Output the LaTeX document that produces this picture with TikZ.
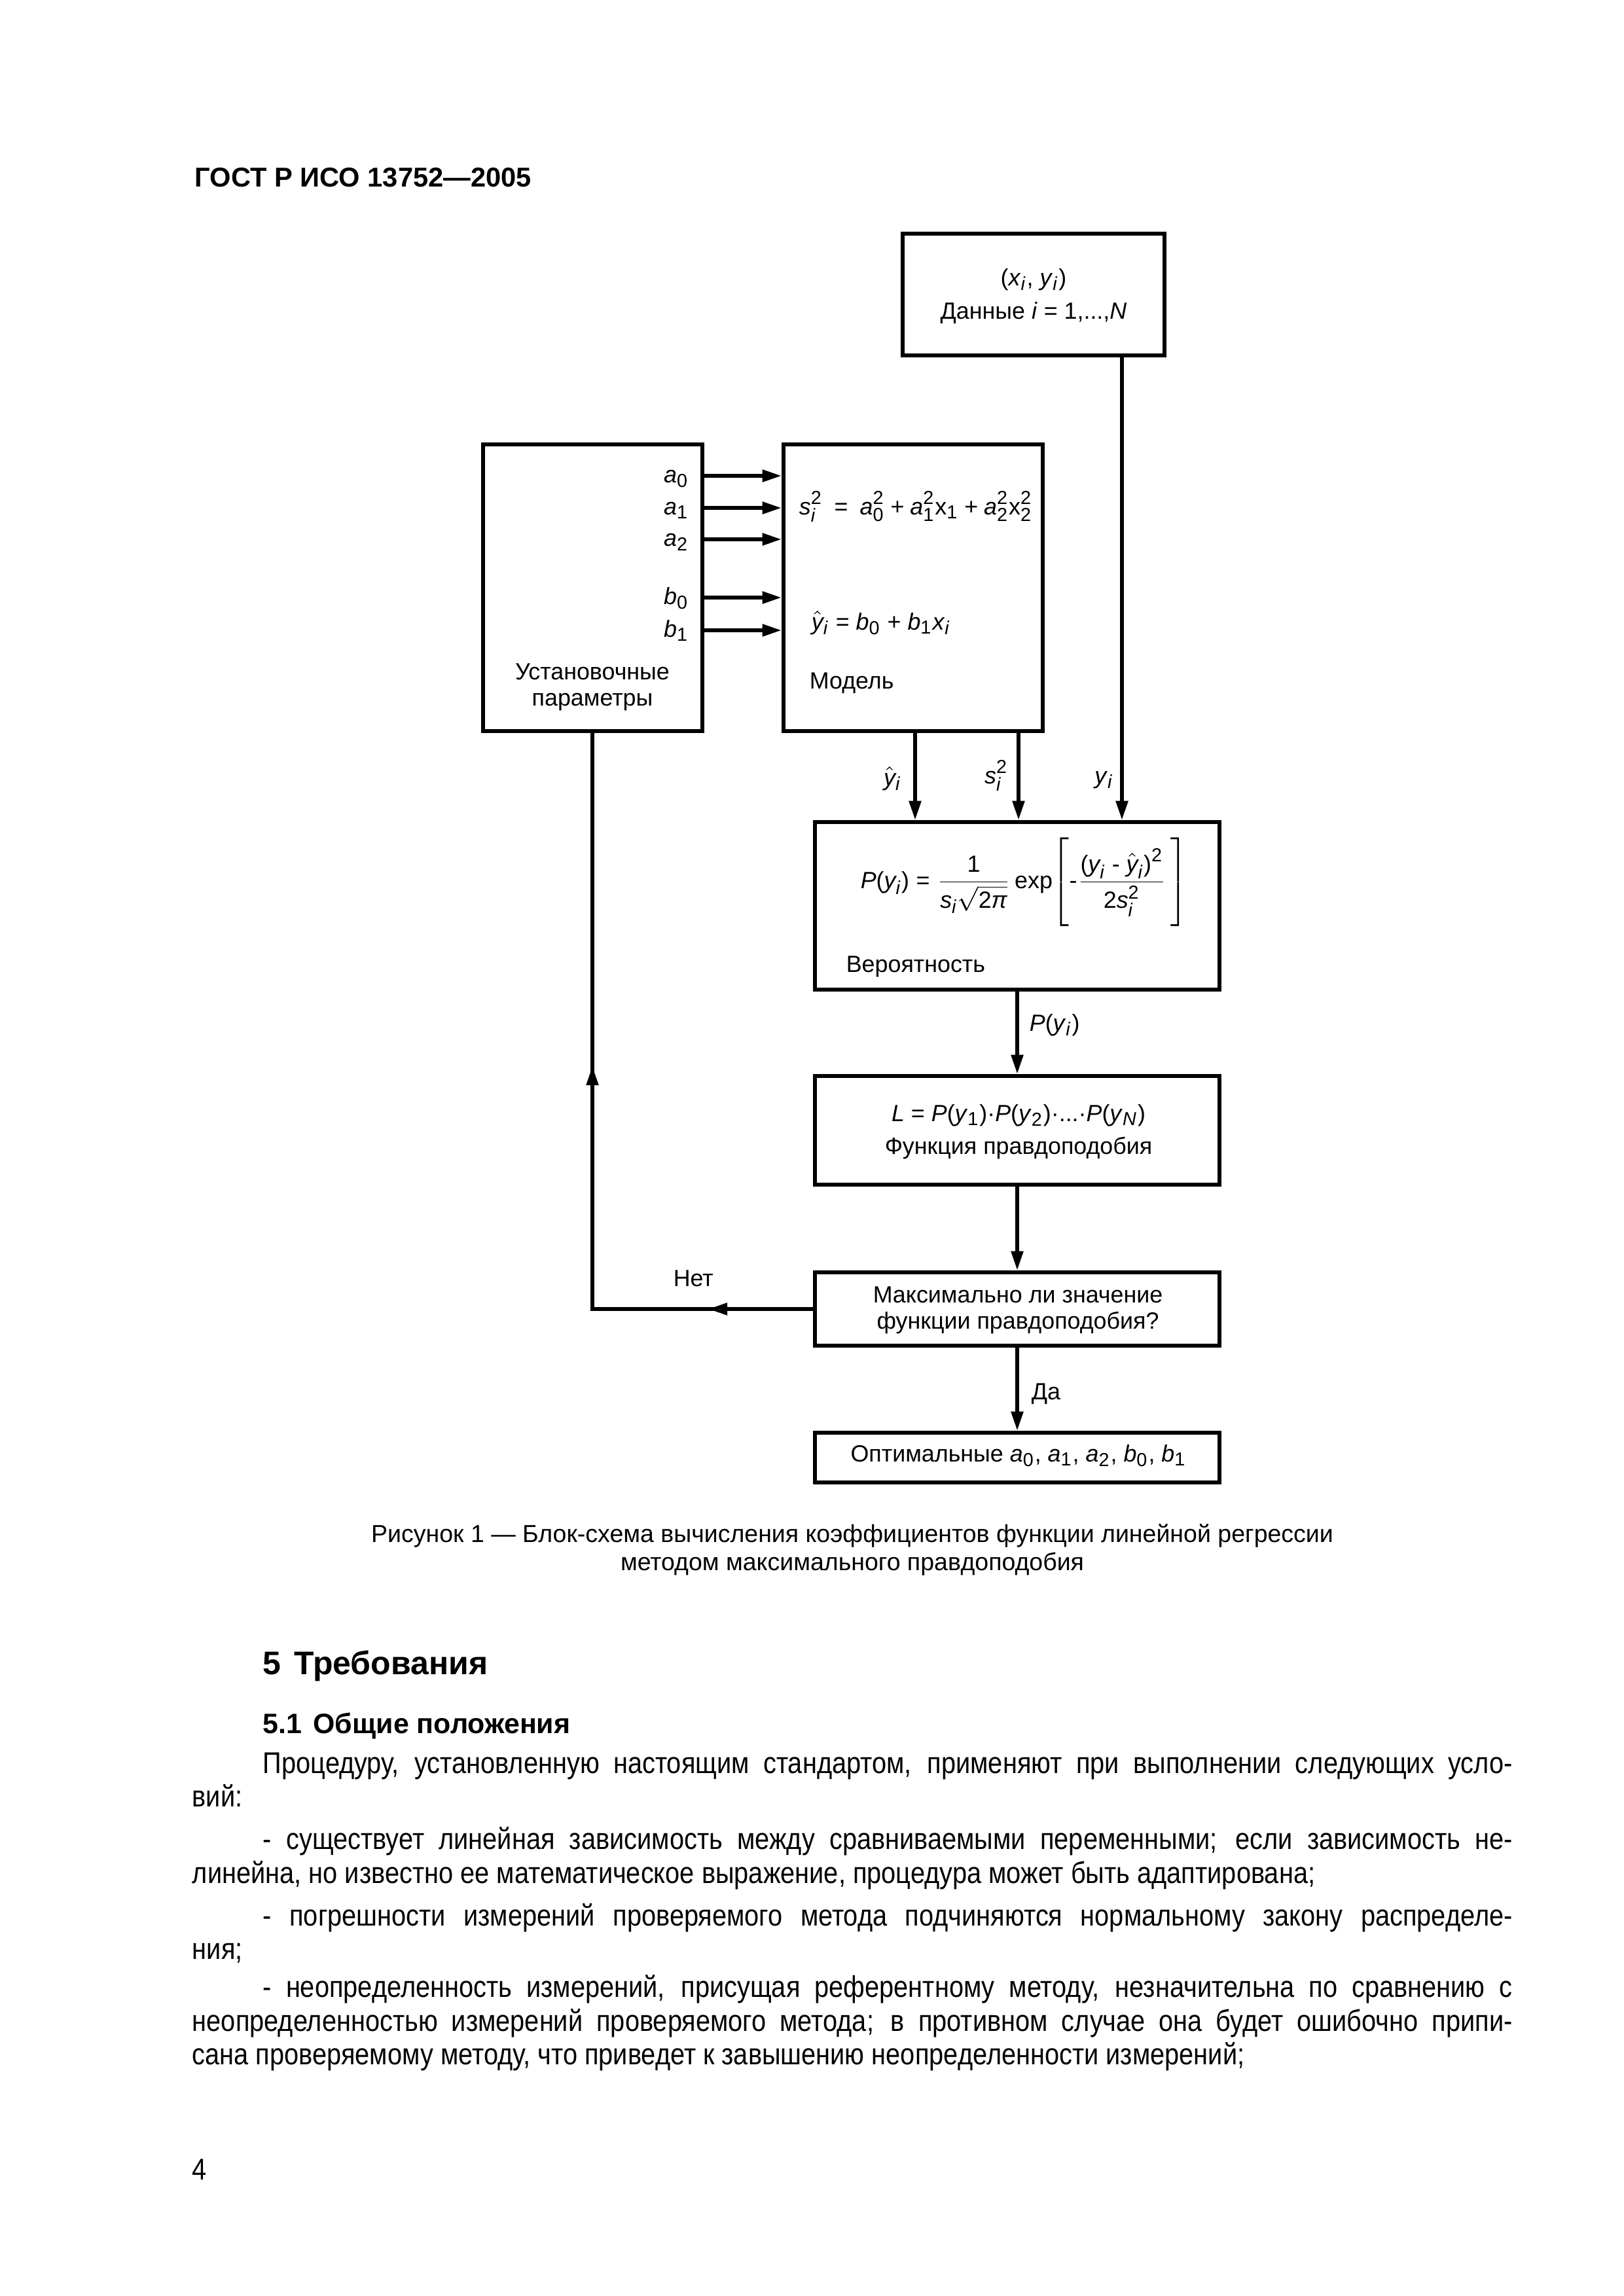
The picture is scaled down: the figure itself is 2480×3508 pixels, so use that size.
\documentclass[tikz,border=0pt]{standalone}
\usepackage{amsmath}
\usepackage{fontspec}
\setmainfont{Liberation Sans}
\newfontfamily\bodyfam[FakeStretch=0.868]{Liberation Sans}
\usetikzlibrary{arrows.meta,fit}
\DeclareMathSizes{8.6}{8.6}{6.9}{5.5}

\newcommand\Lsb[1]{\ensuremath{{}_{\text{#1}}}}
\newcommand\Lss[2]{\ensuremath{{}_{\text{#1}}^{\text{#2}}}}
\newcommand\dgf{\fontsize{8.6}{9.9}\selectfont}
\newcommand\yhat{\ensuremath{\hat{\text{\itshape y}}}}
\newcommand\bodyf{\bodyfam\fontsize{11}{12.4}\selectfont}
\newcommand\Lplus{\hspace{0.25em}+\hspace{0.25em}}

\begin{document}
\begin{tikzpicture}[x=0.24003pt,y=-0.24003pt,
  box/.style={draw, line width=1.5pt, inner sep=0pt},
  arr/.style={line width=1.3pt, -{Triangle[length=7pt,width=4.3pt]}},
  ln/.style={line width=1.3pt},
  txt/.style={inner sep=0pt, font=\dgf},
  bodyl/.style={inner sep=0pt, anchor=base west, font=\bodyf},
]
\fill[white] (0,0) rectangle (2480,3508);
\useasboundingbox (0,0) rectangle (2480,3508);

% header
\node[inner sep=0pt, anchor=base west, font=\fontsize{10}{12}\selectfont\bfseries] (hdr) at (297,285) {ГОСТ Р ИСО 13752—2005};

% boxes
\node[box, fit={(1379,357) (1779,543)}] (data) {};
\node[box, fit={(738,679) (1073,1117)}] (params) {};
\node[box, fit={(1197,679) (1593,1117)}] (model) {};
\node[box, fit={(1245,1256) (1863,1512)}] (prob) {};
\node[box, fit={(1245,1644) (1863,1810)}] (func) {};
\node[box, fit={(1245,1944) (1863,2056)}] (maxq) {};
\node[box, fit={(1245,2189) (1863,2265)}] (opt) {};

% data text
\node[txt, anchor=base] (d1) at (1579,436) {(\textit{x}\Lsb{\textit{i}}, \textit{y}\Lsb{\textit{i}})};
\node[txt, anchor=base] (d2) at (1579,487) {Данные \textit{i} = 1,...,\textit{N}};

% params labels
\node[txt, anchor=base east] (la0) at (1053,737) {\textit{a}\Lsb{0}};
\node[txt, anchor=base east] (la1) at (1053,786) {\textit{a}\Lsb{1}};
\node[txt, anchor=base east] (la2) at (1053,834) {\textit{a}\Lsb{2}};
\node[txt, anchor=base east] (lb0) at (1053,923) {\textit{b}\Lsb{0}};
\node[txt, anchor=base east] (lb1) at (1053,973) {\textit{b}\Lsb{1}};
\node[txt, anchor=base] (p1) at (905,1038) {Установочные};
\node[txt, anchor=base] (p2) at (905,1078) {параметры};

% model text
\node[txt, anchor=base west] (m1) at (1220,786) {\textit{s}\Lss{\textit{i}}{2}\enspace=\enspace\textit{a}\Lss{0}{2}\Lplus\textit{a}\Lss{1}{2}x\Lsb{1}\Lplus\textit{a}\Lss{2}{2}x\Lss{2}{2}};
\node[txt, anchor=base west] (m2) at (1239,962) {\yhat\Lsb{\textit{i}} = \textit{b}\Lsb{0} + \textit{b}\Lsb{1}\textit{x}\Lsb{\textit{i}}};
\node[txt, anchor=base west] (m3) at (1236,1052) {Модель};

% params -> model
\foreach \yy in {727,776,824,913,963}
  \draw[arr] (params.east |- 0,\yy) -- (model.west |- 0,\yy);

% into prob
\draw[arr] (model.south -| 1398,0) -- (prob.north -| 1398,0);
\draw[arr] (model.south -| 1556,0) -- (prob.north -| 1556,0);
\draw[arr] (data.south -| 1714,0) -- (prob.north -| 1714,0);
\node[txt, anchor=base east] (lyh) at (1378,1200) {\yhat\Lsb{\textit{i}}};
\node[txt, anchor=base east] (ls) at (1541,1197) {\textit{s}\Lss{\textit{i}}{2}};
\node[txt, anchor=base east] (ly) at (1702,1197) {\textit{y}\Lsb{\textit{i}}};

% prob formula
\node[txt, anchor=base west] (pf) at (1314,1357) {$\displaystyle \text{\itshape P}\text{(}\text{\itshape y}_{\text{\itshape i}}\text{)}\;\text{=}\;\frac{\text{1}}{\text{\itshape s}_{\text{\itshape i}}\sqrt{\text{2\itshape π}}}\,\text{exp}{\left[\rule[-13.3pt]{0pt}{31pt}\text{-}\frac{\text{(}\text{\itshape y}_{\text{\itshape i}}\text{ - }\hat{\text{\itshape y}}_{\text{\itshape i}}\text{)}^{\text{2}}}{\text{2\itshape s}_{\text{\itshape i}}^{\text{2}}}\,\right]}$};
\node[txt, anchor=base west] (pv) at (1292,1485) {Вероятность};

% prob -> func
\draw[arr] (prob.south) -- (func.north);
\node[txt, anchor=base west] (lp) at (1572,1575) {\textit{P}(\textit{y}\Lsb{\textit{i}})};
\node[txt, anchor=base] (f1) at (1556,1713) {\textit{L} = \textit{P}(\textit{y}\Lsb{1})·\textit{P}(\textit{y}\Lsb{2})·...·\textit{P}(\textit{y}\Lsb{\textit{N}})};
\node[txt, anchor=base] (f2) at (1556,1763) {Функция правдоподобия};

% func -> maxq
\draw[arr] (func.south) -- (maxq.north);
\node[txt, anchor=base] (q1) at (1555,1990) {Максимально ли значение};
\node[txt, anchor=base] (q2) at (1555,2030) {функции правдоподобия?};

% maxq -> opt
\draw[arr] (maxq.south) -- (opt.north);
\node[txt, anchor=base west] (lda) at (1575,2138) {Да};
\node[txt, anchor=base] (o1) at (1556,2233) {Оптимальные \textit{a}\Lsb{0}, \textit{a}\Lsb{1}, \textit{a}\Lsb{2}, \textit{b}\Lsb{0}, \textit{b}\Lsb{1}};

% feedback
\coordinate (fb) at (905,2000);
\coordinate (fbtip) at (1082,2000);
\coordinate (fbup) at (905,1629);
\draw[ln] (maxq.west |- fb) -- (fb) -- (params.south -| fb);
\draw[arr] (maxq.west |- fb) -- (fbtip);
\draw[arr] (fb) -- (fbup);
\node[txt, anchor=base west] (lnet) at (1028,1965) {Нет};

% caption
\node[anchor=base, inner sep=0pt, font=\fontsize{9}{10.35}\selectfont] (c1) at (1302,2356) {Рисунок 1 — Блок-схема вычисления коэффициентов функции линейной регрессии};
\node[anchor=base, inner sep=0pt, font=\fontsize{9}{10.35}\selectfont] (c2) at (1302,2399) {методом максимального правдоподобия};

% headings
\node[anchor=base west, inner sep=0pt, font=\fontsize{12}{14}\selectfont\bfseries] (h5) at (401,2558) {5\hspace{0.4em}Требования};
\node[anchor=base west, inner sep=0pt, font=\fontsize{10.3}{12.5}\selectfont\bfseries] (h51) at (401,2648) {5.1\hspace{0.4em}Общие положения};

% body
\node[bodyl] (l1) at (401,2709) {\makebox[458.2pt][s]{Процедуру, установленную настоящим стандартом, применяют при выполнении следующих усло-}};
\node[bodyl] (l2) at (293,2760) {вий:};
\node[bodyl] (l3) at (401,2825) {\makebox[458.2pt][s]{- существует линейная зависимость между сравниваемыми переменными; если зависимость не-}};
\node[bodyl] (l4) at (293,2877) {линейна, но известно ее математическое выражение, процедура может быть адаптирована;};
\node[bodyl] (l5) at (401,2942) {\makebox[458.2pt][s]{- погрешности измерений проверяемого метода подчиняются нормальному закону распределе-}};
\node[bodyl] (l6) at (293,2993) {ния;};
\node[bodyl] (l7) at (401,3051) {\makebox[458.2pt][s]{- неопределенность измерений, присущая референтному методу, незначительна по сравнению с}};
\node[bodyl] (l8) at (293,3103) {\makebox[484.1pt][s]{неопределенностью измерений проверяемого метода; в противном случае она будет ошибочно припи-}};
\node[bodyl] (l9) at (293,3154) {сана проверяемому методу, что приведет к завышению неопределенности измерений;};
\node[bodyl] (pg) at (293,3330) {4};
\end{tikzpicture}
\end{document}
